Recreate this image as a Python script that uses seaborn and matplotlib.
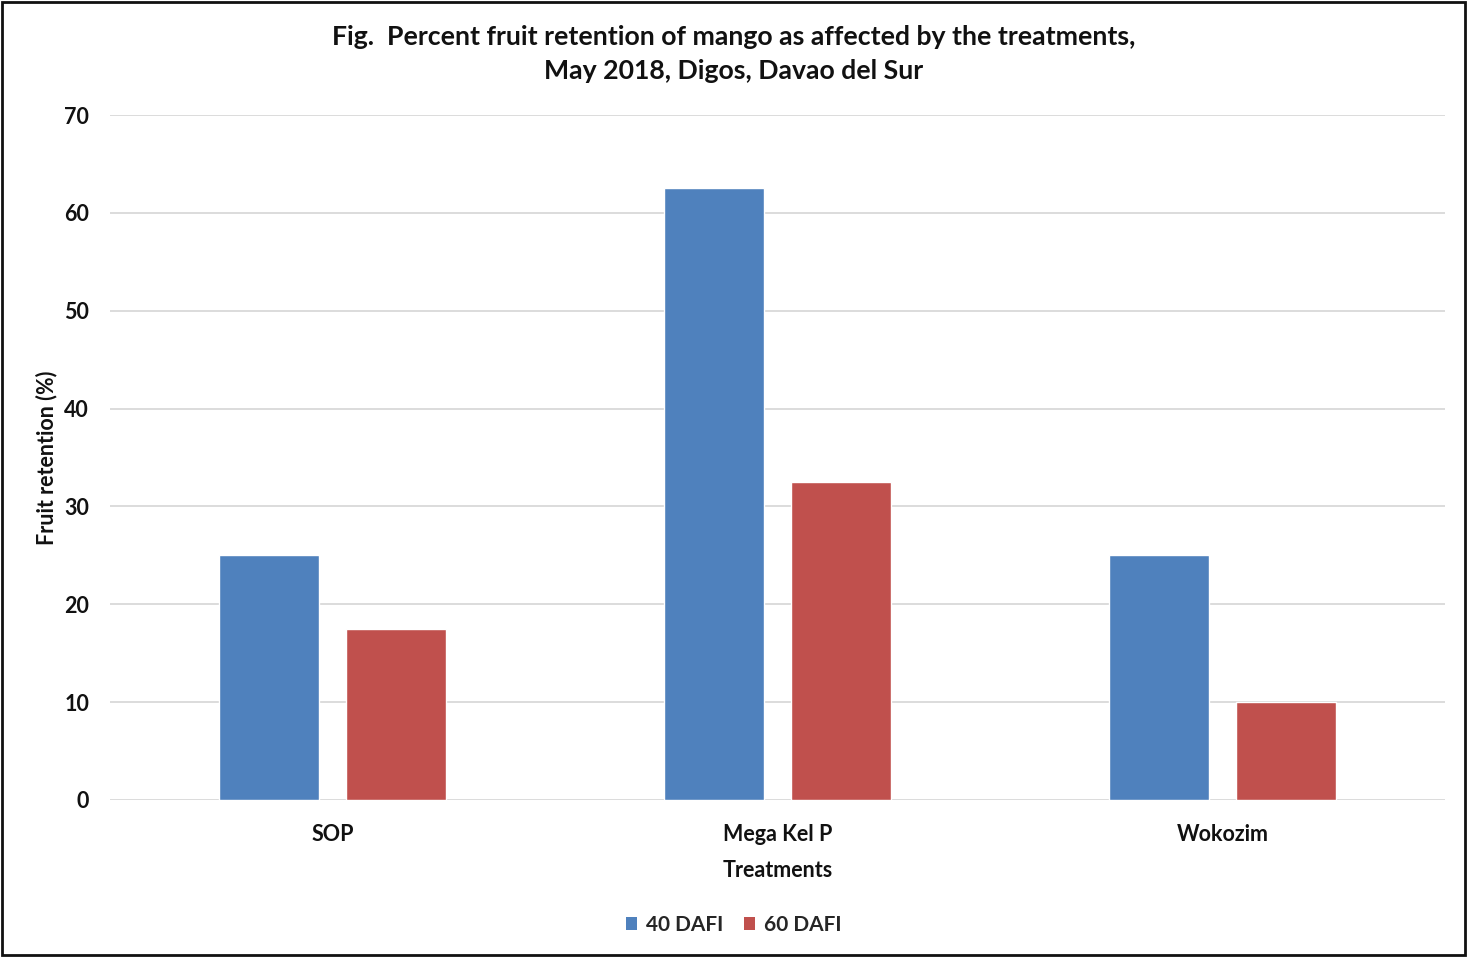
import matplotlib
matplotlib.use("Agg")
import matplotlib.pyplot as plt
import seaborn as sns
import pandas as pd
from matplotlib.patches import Rectangle, Patch

treatments = ["SOP", "Mega Kel P", "Wokozim"]
dafi_40 = [25, 62.5, 25]
dafi_60 = [17.5, 32.5, 10]
series_names = ["40 DAFI", "60 DAFI"]
colors = ["#4F81BD", "#C0504D"]
yticks = [0, 10, 20, 30, 40, 50, 60, 70]

df = pd.DataFrame({
    "Treatment": treatments * 2,
    "Value": dafi_40 + dafi_60,
    "Series": [series_names[0]] * 3 + [series_names[1]] * 3,
})

sns.set_theme(style="white")
plt.rcParams["font.family"] = ["Lato", "DejaVu Sans"]
plt.rcParams["font.weight"] = "bold"

fig = plt.figure(figsize=(14.67, 9.57), dpi=100)
ax = fig.add_axes([110/1467, 1-800/957, (1445-110)/1467, (800-115)/957])

sns.barplot(data=df, x="Treatment", y="Value", hue="Series", palette=colors,
            width=0.571, gap=0.212, ax=ax, legend=False, saturation=1)

ax.set_xlim(-0.5, 2.5)
ax.set_ylim(0, 70)
ax.set_yticks(yticks)
ax.yaxis.grid(True, color="#D9D9D9", linewidth=1.3)
ax.set_axisbelow(True)
for s in ax.spines.values():
    s.set_visible(False)
ax.tick_params(axis="both", length=0, labelsize=15.5, labelcolor="#111111")
ax.tick_params(axis="y", pad=15)
ax.tick_params(axis="x", pad=17)
for lbl in ax.get_xticklabels() + ax.get_yticklabels():
    lbl.set_fontweight("bold")
ax.set_xlabel("Treatments", fontsize=15.5, fontweight="bold", color="#111111", labelpad=11)
ax.set_ylabel("Fruit retention (%)", fontsize=15.5, fontweight="bold", color="#111111", labelpad=5)

fig.text(0.5, 1-37/957, "Fig.  Percent fruit retention of mango as affected by the treatments,",
         ha="center", va="center", fontsize=19.2, fontweight="bold", color="#111111")
fig.text(0.5, 1-71/957, "May 2018, Digos, Davao del Sur",
         ha="center", va="center", fontsize=19.2, fontweight="bold", color="#111111")

handles = [Patch(facecolor=c, edgecolor="none") for c in colors]
fig.legend(handles, series_names, loc="center", bbox_to_anchor=(0.5, 1-925/957), ncol=2,
           frameon=False, handlelength=0.55, handleheight=0.55,
           handletextpad=0.4, columnspacing=1.0, prop={"weight": "bold", "size": 15})

fig.patches.append(Rectangle((2/1467, 2/957), 1463/1467, 953/957, transform=fig.transFigure,
                             fill=False, edgecolor="#111111", linewidth=2))

fig.savefig("out.png", dpi=100)
